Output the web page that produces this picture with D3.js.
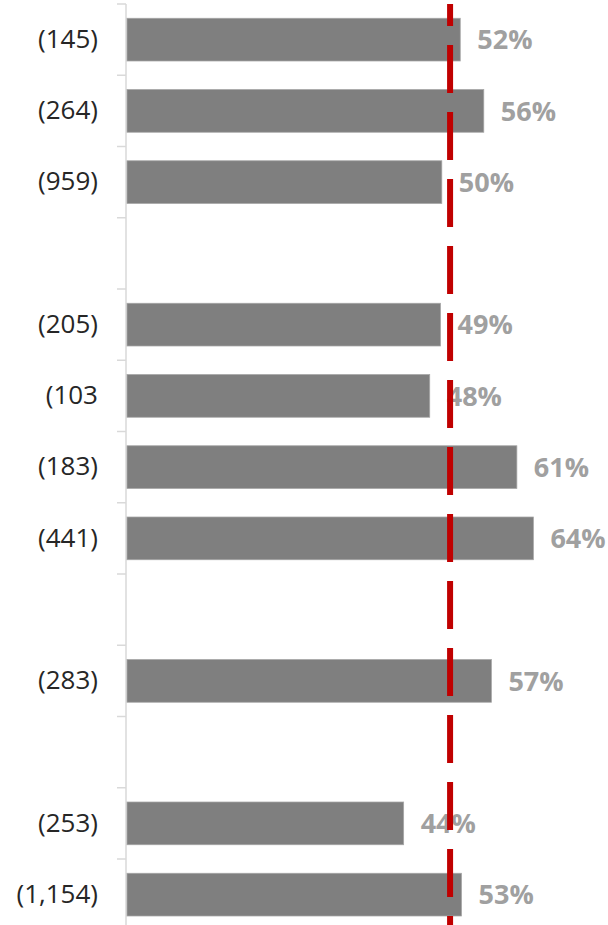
<!DOCTYPE html>
<html>
<head>
<meta charset="utf-8">
<script src="https://cdn.jsdelivr.net/npm/d3@7"></script>
<style>
  html, body { margin: 0; padding: 0; background: #fff; }
  svg { display: block; }
</style>
</head>
<body>
<svg id="chart" width="608" height="925"></svg>
<script>
// Data
const categories = ["r1","r2","r3","gap1","r4","r5","r6","r7","gap2","r8","gap3","r9","r10"];
const sampleLabels = ["(145)","(264)","(959)","","(205)","(103","(183)","(441)","","(283)","","(253)","(1,154)"];
const values = [52.4, 56.1, 49.5, null, 49.3, 47.6, 61.3, 63.9, null, 57.3, null, 43.5, 52.6];
const pctLabels = ["52%","56%","50%",null,"49%","48%","61%","64%",null,"57%",null,"44%","53%"];
const referenceValue = 50.8;

(function () {
const svg = d3.select("#chart");

const y = d3.scaleBand()
  .domain(categories)
  .range([4, 4 + 13 * 71.25])
  .paddingInner(0.4)
  .paddingOuter(0.2);

const x = d3.scaleLinear().domain([0, 100]).range([127, 763]);

const step = y.step();
const half = step * 0.4 / 2;

const yTop = y.range()[0], yBottom = y.range()[1];

// Axis line
svg.append("line")
  .attr("x1", 126).attr("x2", 126)
  .attr("y1", yTop).attr("y2", yBottom)
  .attr("stroke", "#d9d9d9").attr("stroke-width", 1.5);

// Ticks at band boundaries
const boundaries = categories.map(c => y(c) - half).concat([y(categories[categories.length-1]) + y.bandwidth() + half]);
svg.selectAll("line.tick")
  .data(boundaries)
  .join("line")
  .attr("class", "tick")
  .attr("x1", 117).attr("x2", 126)
  .attr("y1", d => d).attr("y2", d => d)
  .attr("stroke", "#d9d9d9").attr("stroke-width", 1.5);

// Category labels via axis
const axis = d3.axisLeft(y)
  .tickSize(0)
  .tickPadding(28)
  .tickFormat((d, i) => sampleLabels[i]);
const ag = svg.append("g").attr("transform", "translate(126,0)").call(axis);
ag.select(".domain").remove();
ag.selectAll("text")
  .attr("font-family", "'Open Sans', sans-serif")
  .attr("font-size", 26)
  .attr("fill", "#262626");

const rows = categories.map((c, i) => ({c, v: values[i], lab: pctLabels[i]})).filter(d => d.v != null);

// Bars
svg.selectAll("rect.bar")
  .data(rows)
  .join("rect")
  .attr("class", "bar")
  .attr("x", x(0))
  .attr("y", d => y(d.c))
  .attr("width", d => x(d.v) - x(0))
  .attr("height", y.bandwidth())
  .attr("fill", "#7f7f7f")
  .attr("stroke", "#a6a6a6")
  .attr("stroke-width", 0.75);

// Value labels
svg.selectAll("text.val")
  .data(rows)
  .join("text")
  .attr("class", "val")
  .attr("x", d => x(d.v) + 17)
  .attr("y", d => y(d.c) + y.bandwidth() / 2)
  .attr("dy", "0.36em")
  .attr("font-family", "'Open Sans', sans-serif")
  .attr("font-weight", "bold")
  .attr("font-size", 27)
  .attr("fill", "#a0a0a0")
  .text(d => d.lab);

// Reference dashed line
svg.append("line")
  .attr("x1", x(referenceValue)).attr("x2", x(referenceValue))
  .attr("y1", yTop).attr("y2", yBottom)
  .attr("stroke", "#c00000")
  .attr("stroke-width", 6)
  .attr("stroke-dasharray", "48,19")
  .attr("stroke-dashoffset", 26);
})();
</script>
</body>
</html>
